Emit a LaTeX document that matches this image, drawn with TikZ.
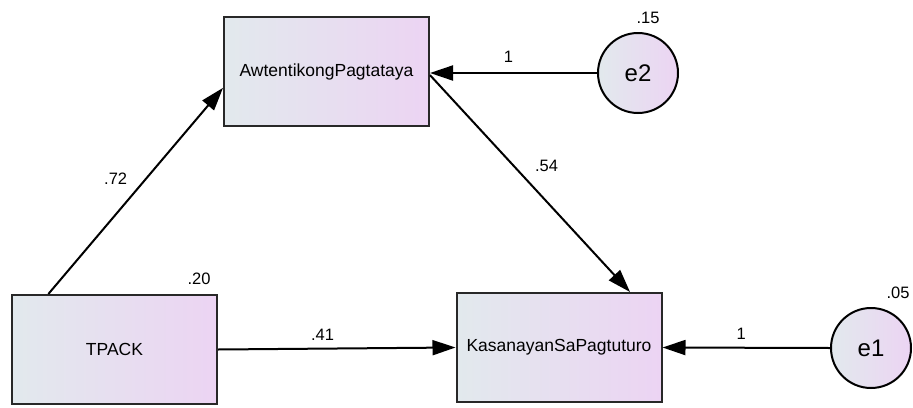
\documentclass[tikz,border=0pt]{standalone}
\usepackage{fontspec}
\setmainfont{Liberation Sans}
\usepackage{tikz}
\usetikzlibrary{calc}
\usetikzlibrary{arrows.meta,shapes}
\usetikzlibrary{positioning}
\definecolor{boxleft}{RGB}{226,233,237}
\definecolor{boxright}{RGB}{236,212,243}
\definecolor{edgegray}{RGB}{40,40,40}
\newcommand{\coeffont}{\fontsize{16.5}{18}\selectfont}

\begin{document}
\begin{tikzpicture}[x=1pt,y=-1pt,
    obsbox/.style={draw=edgegray,line width=2pt,left color=boxleft,right color=boxright,
      minimum width=205pt,minimum height=109pt,inner sep=0pt,font=\fontsize{17.5}{20}\selectfont},
    errcirc/.style={circle,draw=black,line width=2pt,left color=boxleft,right color=boxright,
      minimum size=80pt,inner sep=0pt,font=\fontsize{24}{26}\selectfont},
    regarrow/.style={-{Triangle[length=23pt,width=15pt]},line width=2pt},
    coef/.style={inner sep=0pt,font=\coeffont}]
    \useasboundingbox (0,0) rectangle (913,407);
    % observed variables
    \node[obsbox] (awt)   at (326.5,71.5)  {AwtentikongPagtataya};
    \node[obsbox] (tpack) at (114.5,349.5) {TPACK};
    \node[obsbox] (kas)   at (559,347.5)   {KasanayanSaPagtuturo};
    % error terms
    \node[errcirc] (e2) at (638,73)  {e2};
    \node[errcirc] (e1) at (871,348) {e1};
    % variances
    \node[coef, above=8pt of e2.north, xshift=10pt] (v15) {.15};
    \node[coef, above=8pt of e1.north, xshift=27pt] (v05) {.05};
    \node[coef, above=9pt of tpack.north east, xshift=-19pt] (v20) {.20};
    % paths
    \draw[regarrow] (tpack.140) -- node[coef, pos=0.56, left=18pt] (c72) {.72} (awt.189);
    \draw[regarrow] (awt.358) -- node[coef, pos=0.42, right=20pt] (c54) {.54} (kas.38);
    \draw[regarrow] (e2.west) -- node[coef, pos=0.53, above=10pt] (c1a) {1} (e2.west -| awt.east);
    \draw[regarrow] (tpack.east) -- node[coef, pos=0.44, above=7pt] (c41) {.41} (kas.west);
    \draw[regarrow] (e1.west) -- node[coef, pos=0.53, above=7pt] (c1b) {1} (kas.east);
\end{tikzpicture}
\end{document}
